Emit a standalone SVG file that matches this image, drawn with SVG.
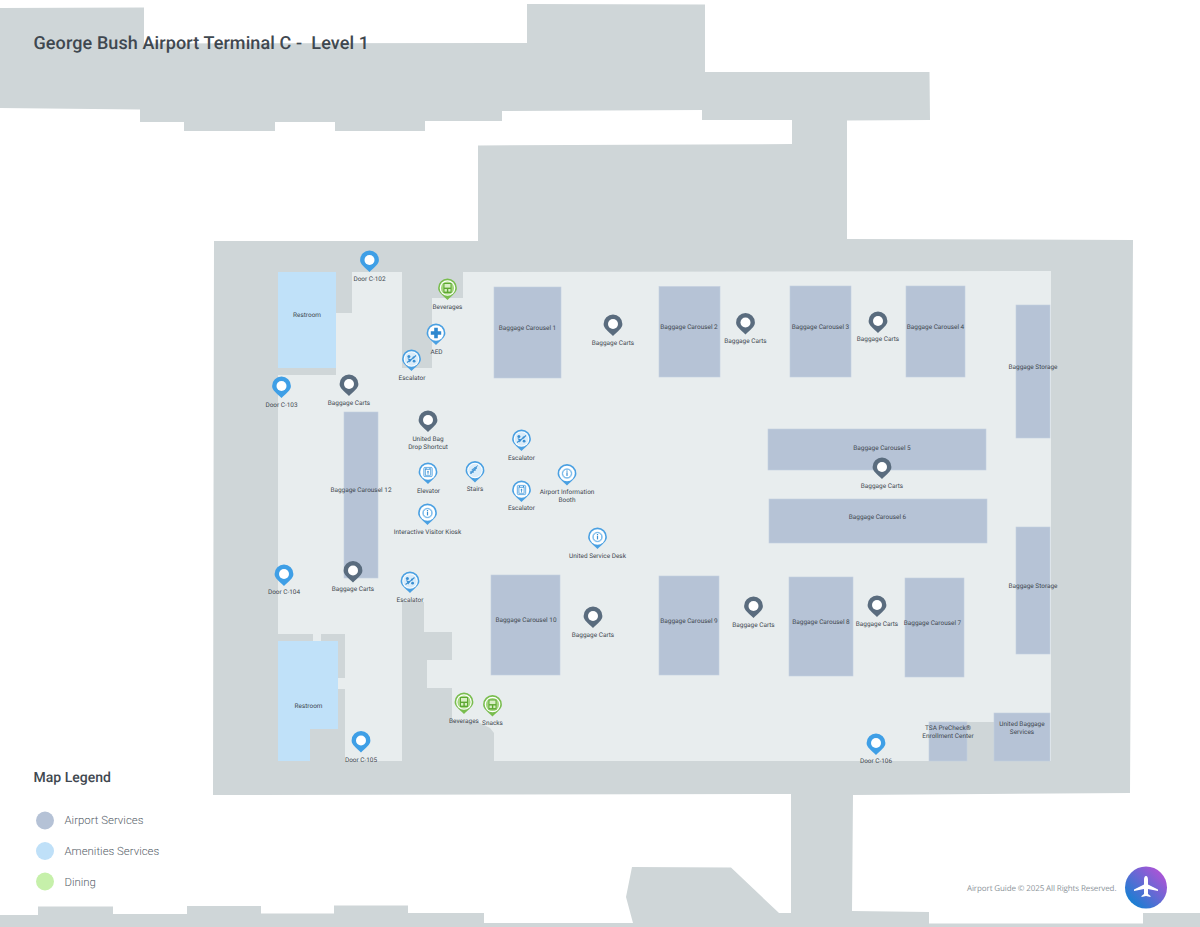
<svg xmlns="http://www.w3.org/2000/svg" width="1200" height="927" viewBox="0 0 1200 927">
<style>
text{font-family:Roboto,"Liberation Sans",sans-serif;fill:#3f4850;text-rendering:geometricPrecision}
.l{font-size:6.45px;text-anchor:middle}
.g{fill:#cfd6d8}
.c{fill:#b6c3d6;stroke:#c3cfdf;stroke-width:.6}
.r{fill:#c0e1f9}
.lg{font-size:11.4px;font-weight:300;fill:#5a646c}
</style>
<defs>
<linearGradient id="lgd" x1="0" y1="1" x2="1" y2="0"><stop offset=".15" stop-color="#1a7fd2"/><stop offset=".85" stop-color="#a855d6"/></linearGradient>
<path id="p" d="M-9.4,0A9.4,9.4 0 1 1 9.4,0C9.4,4.6 4.8,7 0,12C-4.8,7 -9.4,4.6 -9.4,0Z"/>
<g id="pin-door"><use href="#p" fill="#3f9fe6"/><circle r="5" fill="#fff"/></g>
<g id="pin-cart"><use href="#p" fill="#5a6c7e"/><circle r="5" fill="#fff"/></g>
<g id="pin-a"><use href="#p" fill="#4aa0e2"/><circle r="7.8" fill="#fff"/></g>
<g id="pin-d"><use href="#p" fill="#79bd4e"/><circle r="7.8" fill="#fff"/><circle r="6.6" fill="#a5d77f"/><rect x="-4" y="-5" width="8" height="10" fill="#5da832"/><rect x="-3" y="-4" width="6" height="3.6" fill="#d9efc6"/><rect x="-3" y="1" width="2.4" height="2.6" fill="#d9efc6"/><rect x=".8" y="1" width="2.2" height="2.6" fill="#d9efc6"/></g>
<g id="ic-info"><circle r="5.6" fill="#d3e9f9"/><circle r="4.4" fill="#fff" stroke="#4aa0e2" stroke-width=".9"/><rect x="-.6" y="-1.2" width="1.2" height="3.6" fill="#3a8fd2"/><rect x="-.6" y="-3" width="1.2" height="1.2" fill="#3a8fd2"/></g>
<g id="ic-lift"><rect x="-4.2" y="-4.6" width="8.4" height="9.2" rx="1" fill="#d3e9f9" stroke="#4aa0e2" stroke-width=".8"/><rect x="-2.5" y="-2.4" width="5" height="5.6" fill="#fff" stroke="#3a8fd2" stroke-width=".6"/><path d="M0,-1.6L1.2,.2H.4V2.4H-.4V.2H-1.2Z" fill="#3a8fd2"/><circle cx="-2" cy="-3.6" r=".6" fill="#3a8fd2"/><circle cx="2" cy="-3.6" r=".6" fill="#3a8fd2"/></g>
<g id="ic-esc"><circle r="6.8" fill="#d9ecfa"/><path d="M-4.5,3.5L-1,1L1,-.5L4.5,-3.5" stroke="#3a8fd2" stroke-width="1.1" fill="none"/><circle cx="-2.6" cy="-2.6" r="1.5" fill="#3a8fd2"/><path d="M-4,-1L-1.8,3.4L.2,.8Z" fill="#3a8fd2"/><circle cx="2.6" cy="2.2" r="1.4" fill="#3a8fd2"/><circle cx="2" cy="-1.5" r="1" fill="#3a8fd2"/></g>
<g id="ic-stairs"><circle r="6.8" fill="#d9ecfa"/><path d="M-4,3.5V1.5H-2V-.5H0V-2.5H2" stroke="#3a8fd2" stroke-width="1.4" fill="none"/><path d="M-3.5,-.5L3,-5" stroke="#3a8fd2" stroke-width=".8"/></g>
<g id="ic-aed"><path d="M-1.8,-5.2H1.8V-1.8H5.2V1.8H1.8V5.2H-1.8V1.8H-5.2V-1.8H-1.8Z" fill="#2f88cf"/></g>
</defs>

<rect width="1200" height="927" fill="#fff"/>
<g id="building">
<path class="g" d="M0,8L144,7.5V43.5L527,43V4L705,4.5V72H929.5L930,120L847,120.5V239L1133,240L1130,793L853,795L852,911L929,912V923.5H1143V913H1200V927H0V915H38V906.5H113V914H187V906H261V913.5H334V905.5H408V913H484V923H633L626,897L632,867L731,867.5L779,913H791V794L213,795L214,241H478V145.5L792,144V120H702V110L502,111V121H425V131H335V122H275V131H184V122H140V109.5L0,108Z"/>
</g>
<g id="floor">
<path fill="#e8edee" d="M278,272H402V368H432V298H463V272L1051,271V761H994V722H929V761H494V733L490,728L480,723L452,720V688H427V660H452V632H424V602H402V761H345V634H278Z"/>
<rect x="278" y="375" width="70" height="262" fill="#e8edee"/>
<path class="g" d="M336,272H352V313H336Z"/>
<path class="g" d="M278,368H336V375H278Z"/>
<path class="g" d="M278,634H313V641H278Z"/>
<path class="g" d="M321,634H345V678H321Z"/>
<path class="g" d="M338,689H345V729H338Z"/>
<path class="g" d="M310,729H345V761H310Z"/>
<rect x="338" y="678" width="7" height="11" fill="#e8edee"/>
<rect x="313" y="634" width="8" height="7" fill="#e8edee"/>
<rect x="967" y="722" width="27" height="39" class="g"/>
</g>

<g id="restroom-1"><rect class="r" x="278" y="272" width="58" height="96"/><text class="l" x="307" y="317.300">Restroom</text></g>
<g id="restroom-2"><path class="r" d="M278,641H338V729H310V761H278Z"/><text class="l" x="308.500" y="707.800">Restroom</text></g>
<g id="carousel-1"><rect class="c" x="494" y="287" width="67" height="91"/><text class="l" x="527.500" y="329.500">Baggage Carousel 1</text></g>
<g id="carousel-2"><rect class="c" x="659" y="286.500" width="61" height="90.500"/><text class="l" x="689" y="329.300">Baggage Carousel 2</text></g>
<g id="carousel-3"><rect class="c" x="790" y="286" width="61" height="91"/><text class="l" x="820.500" y="329.300">Baggage Carousel 3</text></g>
<g id="carousel-4"><rect class="c" x="906" y="286" width="59" height="91"/><text class="l" x="935.500" y="329.300">Baggage Carousel 4</text></g>
<g id="carousel-5"><rect class="c" x="768" y="429" width="218" height="41"/><text class="l" x="882" y="450.300">Baggage Carousel 5</text></g>
<g id="carousel-6"><rect class="c" x="769" y="499" width="218" height="44"/><text class="l" x="877.500" y="518.800">Baggage Carousel 6</text></g>
<g id="carousel-7"><rect class="c" x="905" y="578" width="59" height="99"/><text class="l" x="932.500" y="625.300">Baggage Carousel 7</text></g>
<g id="carousel-8"><rect class="c" x="789" y="577" width="64" height="99"/><text class="l" x="821" y="624.300">Baggage Carousel 8</text></g>
<g id="carousel-9"><rect class="c" x="659" y="576" width="60" height="99"/><text class="l" x="689" y="623.300">Baggage Carousel 9</text></g>
<g id="carousel-10"><rect class="c" x="491" y="575" width="69" height="100"/><text class="l" x="526" y="622.300">Baggage Carousel 10</text></g>
<g id="carousel-12"><rect class="c" x="344" y="412" width="34" height="166"/><text class="l" x="361" y="492.300">Baggage Carousel 12</text></g>
<g id="storage-1"><rect class="c" x="1016" y="305" width="34" height="133"/><text class="l" x="1033" y="369.300">Baggage Storage</text></g>
<g id="storage-2"><rect class="c" x="1016" y="527" width="34" height="127"/><text class="l" x="1033" y="588.300">Baggage Storage</text></g>
<g id="tsa"><rect class="c" x="929" y="722" width="38" height="39"/><text class="l" x="948" y="730.300">TSA PreCheck®</text><text class="l" x="948" y="738.300">Enrollment Center</text></g>
<g id="united-baggage"><rect class="c" x="994" y="713" width="56" height="48"/><text class="l" x="1022" y="726.300">United Baggage</text><text class="l" x="1022" y="734.300">Services</text></g>

<g id="door-c102"><use href="#pin-door" x="369.500" y="260"/><text class="l" x="369.500" y="281.300">Door C-102</text></g>
<g id="door-c103"><use href="#pin-door" x="281.500" y="386"/><text class="l" x="281.500" y="406.800">Door C-103</text></g>
<g id="door-c104"><use href="#pin-door" x="284" y="574"/><text class="l" x="284" y="594.300">Door C-104</text></g>
<g id="door-c105"><use href="#pin-door" x="361" y="740.500"/><text class="l" x="361" y="761.800">Door C-105</text></g>
<g id="door-c106"><use href="#pin-door" x="876" y="743"/><text class="l" x="876" y="763.300">Door C-106</text></g>

<g id="carts-1"><use href="#pin-cart" x="349" y="384"/><text class="l" x="349" y="405.300">Baggage Carts</text></g>
<g id="carts-2"><use href="#pin-cart" x="613" y="324"/><text class="l" x="613" y="345.300">Baggage Carts</text></g>
<g id="carts-3"><use href="#pin-cart" x="745.500" y="322.500"/><text class="l" x="745.500" y="343.300">Baggage Carts</text></g>
<g id="carts-4"><use href="#pin-cart" x="878" y="321"/><text class="l" x="878" y="341.300">Baggage Carts</text></g>
<g id="carts-5"><use href="#pin-cart" x="882" y="467"/><text class="l" x="882" y="488.300">Baggage Carts</text></g>
<g id="carts-6"><use href="#pin-cart" x="353" y="570.500"/><text class="l" x="353" y="591.300">Baggage Carts</text></g>
<g id="carts-7"><use href="#pin-cart" x="593" y="616"/><text class="l" x="593" y="636.800">Baggage Carts</text></g>
<g id="carts-8"><use href="#pin-cart" x="753.500" y="606"/><text class="l" x="753.500" y="627.300">Baggage Carts</text></g>
<g id="carts-9"><use href="#pin-cart" x="877" y="605"/><text class="l" x="877" y="626.300">Baggage Carts</text></g>
<g id="united-bag-drop"><use href="#pin-cart" x="428" y="420"/><text class="l" x="428" y="440.800">United Bag</text><text class="l" x="428" y="448.800">Drop Shortcut</text></g>

<g id="beverages-1"><use href="#pin-d" x="447.500" y="288"/><text class="l" x="447.500" y="309.300">Beverages</text></g>
<g id="beverages-2"><use href="#pin-d" x="464" y="702"/><text class="l" x="464" y="723.300">Beverages</text></g>
<g id="snacks"><use href="#pin-d" x="492.500" y="704.500"/><text class="l" x="492.500" y="725.300">Snacks</text></g>

<g id="aed"><use href="#pin-a" x="436" y="333"/><use href="#ic-aed" x="436" y="333"/><text class="l" x="436.500" y="354.300">AED</text></g>
<g id="escalator-1"><use href="#pin-a" x="411.500" y="359"/><use href="#ic-esc" x="411.500" y="359"/><text class="l" x="412" y="379.800">Escalator</text></g>
<g id="escalator-2"><use href="#pin-a" x="521.500" y="439"/><use href="#ic-esc" x="521.500" y="439"/><text class="l" x="521.500" y="460.300">Escalator</text></g>
<g id="escalator-3"><use href="#pin-a" x="410" y="581"/><use href="#ic-esc" x="410" y="581"/><text class="l" x="410" y="601.800">Escalator</text></g>
<g id="escalator-4"><use href="#pin-a" x="521.500" y="490"/><use href="#ic-lift" x="521.500" y="490"/><text class="l" x="521.500" y="510.300">Escalator</text></g>
<g id="elevator"><use href="#pin-a" x="428" y="472"/><use href="#ic-lift" x="428" y="472"/><text class="l" x="428.500" y="493.300">Elevator</text></g>
<g id="stairs"><use href="#pin-a" x="475" y="470.500"/><use href="#ic-stairs" x="475" y="470.500"/><text class="l" x="475" y="490.800">Stairs</text></g>
<g id="info-booth"><use href="#pin-a" x="567" y="473.500"/><use href="#ic-info" x="567" y="473.500"/><text class="l" x="567" y="494.300">Airport Information</text><text class="l" x="567" y="502.300">Booth</text></g>
<g id="kiosk"><use href="#pin-a" x="427.500" y="513"/><use href="#ic-info" x="427.500" y="513"/><text class="l" x="427.500" y="533.800">Interactive Visitor Kiosk</text></g>
<g id="service-desk"><use href="#pin-a" x="597.500" y="537"/><use href="#ic-info" x="597.500" y="537"/><text class="l" x="597.500" y="557.800">United Service Desk</text></g>

<text x="33.500" y="49" font-size="18" font-weight="500" fill="#414b55" textLength="335.500" style="white-space:pre">George Bush Airport Terminal C -  Level 1</text>
<g id="legend">
<text x="33.500" y="782" font-size="14" font-weight="500">Map Legend</text>
<circle cx="45" cy="820.500" r="9" fill="#b5c2d6"/><text class="lg" x="64.500" y="824">Airport Services</text>
<circle cx="45" cy="851" r="9" fill="#bfe0f8"/><text class="lg" x="64.500" y="855">Amenities Services</text>
<circle cx="45" cy="881.500" r="9" fill="#c6f0aa"/><text class="lg" x="64.500" y="885.500">Dining</text>
</g>
<g id="footer">
<text x="967" y="890.500" textLength="149.500" style="font-family:'Open Sans',sans-serif;font-size:8px;fill:#8d959b">Airport Guide © 2025 All Rights Reserved.</text>
<circle cx="1146" cy="887.500" r="21" fill="url(#lgd)"/>
<path fill="#fff" d="M1146,876C1147.500,876 1148,878 1148,880V884.500L1158,889.500V891L1148,889V894L1150.500,896V897L1146,896L1141.500,897V896L1144,894V889L1134,891V889.500L1144,884.500V880C1144,878 1144.500,876 1146,876Z"/>
</g>
</svg>
